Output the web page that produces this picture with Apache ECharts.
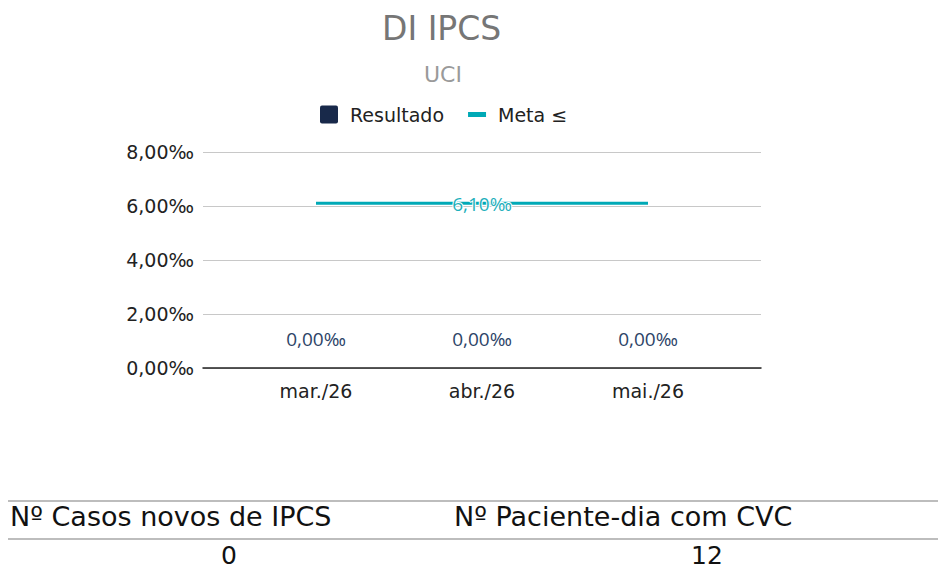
<!DOCTYPE html>
<html>
<head>
<meta charset="utf-8">
<script src="https://cdn.jsdelivr.net/npm/echarts@6/dist/echarts.min.js"></script>
<style>
  html, body { margin: 0; padding: 0; background: #fff; }
  #chart { width: 938px; height: 570px; }
</style>
</head>
<body>
<div id="chart"></div>
<script>
// dados do gráfico
const categorias = ['mar./26', 'abr./26', 'mai./26'];
const resultado = [0, 0, 0];
const meta = [6.1, 6.1, 6.1];
const yTicks = [0, 2, 4, 6, 8];
// tabela de baixo
const tabelaTitulos = ['Nº Casos novos de IPCS', 'Nº Paciente-dia com CVC'];
const tabelaValores = [0, 12];

const fonte = 'DejaVu Sans, Verdana, sans-serif';
const fonteRotulo = 'Liberation Sans Narrow, Open Sans, sans-serif';

// formata em permilagem com vírgula
function permil(v) {
  return Number(v).toFixed(2).replace('.', ',') + '‰';
}

const chart = echarts.init(document.getElementById('chart'), null, { renderer: 'svg' });

const option = {
  animation: false,
  title: [
    {
      text: 'DI IPCS',
      left: 377,
      top: 7,
      textStyle: { fontFamily: fonte, fontSize: 33, fontWeight: 'normal', color: '#767676' }
    },
    {
      text: 'UCI',
      left: 419,
      top: 58,
      textStyle: { fontFamily: fonte, fontSize: 22, fontWeight: 'normal', color: '#9a9a9a' }
    }
  ],
  legend: {
    top: 100,
    left: 315,
    itemWidth: 18,
    itemHeight: 18,
    itemGap: 24,
    textStyle: { fontFamily: fonte, fontSize: 19, color: '#222', padding: [0, 0, 0, 7] },
    data: [
      { name: 'Resultado', icon: 'path://M2,0H16Q18,0 18,2V16Q18,18 16,18H2Q0,18 0,16V2Q0,0 2,0Z' },
      { name: 'Meta ≤', icon: 'path://M0,0H18V5H0Z' }
    ]
  },
  grid: [
    { left: 203, right: 177, top: 152, bottom: 202 },
    { left: 233, right: 207, top: 152, bottom: 202 }
  ],
  xAxis: [
    {
      gridIndex: 0,
      type: 'category',
      data: [''],
      axisLine: { lineStyle: { color: '#222', width: 1.5 } },
      axisTick: { show: false },
      axisLabel: { show: false },
      z: 5
    },
    {
      gridIndex: 1,
      type: 'category',
      data: categorias,
      axisLine: { show: false },
      axisTick: { show: false },
      axisLabel: { margin: 13, fontFamily: fonte, fontSize: 19, color: '#222' }
    }
  ],
  yAxis: [
    {
      gridIndex: 0,
      type: 'value',
      min: yTicks[0],
      max: yTicks[yTicks.length - 1],
      interval: 2,
      axisLine: { show: false },
      axisTick: { show: false },
      splitLine: { lineStyle: { color: '#c8c8c8', width: 1.2 } },
      axisLabel: { margin: 9, fontFamily: fonte, fontSize: 19, color: '#222', formatter: permil }
    },
    {
      gridIndex: 1,
      type: 'value',
      min: yTicks[0],
      max: yTicks[yTicks.length - 1],
      interval: 2,
      show: false,
      splitLine: { show: false }
    }
  ],
  series: [
    {
      name: 'Resultado',
      type: 'bar',
      xAxisIndex: 1,
      yAxisIndex: 1,
      data: resultado,
      barWidth: 60,
      itemStyle: { color: '#18294a' },
      label: {
        show: true,
        position: 'top',
        distance: 20,
        fontFamily: fonteRotulo,
        fontSize: 19,
        color: '#2d4468',
        formatter: p => permil(p.value)
      }
    },
    {
      name: 'Meta ≤',
      type: 'line',
      xAxisIndex: 1,
      yAxisIndex: 1,
      symbol: 'circle',
      symbolSize: 0,
      showSymbol: true,
      lineStyle: { color: '#00a9b6', width: 3 },
      itemStyle: { color: '#00a9b6' },
      data: meta.map((v, i) => i === 1
        ? {
            value: v,
            label: {
              show: true,
              position: 'top',
              distance: 5,
              offset: [0, 15],
              fontFamily: fonteRotulo,
              fontSize: 19,
              color: '#1fb0bc',
              textBorderColor: '#fff',
              textBorderWidth: 2,
              formatter: p => permil(p.value)
            }
          }
        : v),
      z: 3
    }
  ],
  graphic: [
    // linhas da tabela
    { type: 'rect', shape: { x: 8, y: 500, width: 930, height: 2 }, style: { fill: '#bdbdbd' } },
    { type: 'rect', shape: { x: 8, y: 538, width: 930, height: 2 }, style: { fill: '#bdbdbd' } },
    {
      type: 'text', left: 10, top: 503,
      style: { text: tabelaTitulos[0], font: '27px ' + fonte, fill: '#111' }
    },
    {
      type: 'text', left: 454, top: 503,
      style: { text: tabelaTitulos[1], font: '27px ' + fonte, fill: '#111' }
    },
    {
      type: 'text', x: 229, y: 555,
      style: { text: String(tabelaValores[0]), font: '25px ' + fonte, fill: '#111', align: 'center', verticalAlign: 'middle' }
    },
    {
      type: 'text', x: 707, y: 555,
      style: { text: String(tabelaValores[1]), font: '25px ' + fonte, fill: '#111', align: 'center', verticalAlign: 'middle' }
    }
  ]
};

chart.setOption(option);
</script>
</body>
</html>
